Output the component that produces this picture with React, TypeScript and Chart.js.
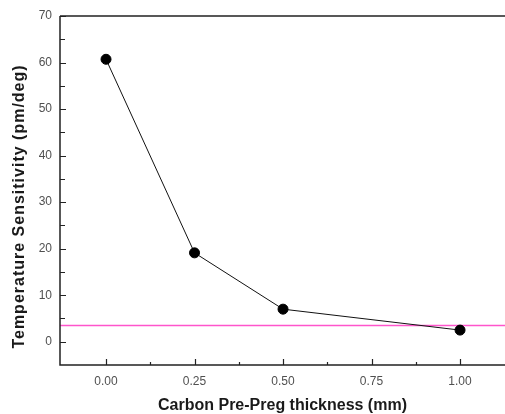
import React, { useEffect, useRef } from "react";
import { Chart, registerables } from "chart.js";

Chart.register(...registerables);

const thickness = [0.0, 0.25, 0.5, 1.0];
const sensitivity = [60.7, 19.1, 7.0, 2.5];
const thresholdValue = 3.5;
const xTickValues = [0, 0.25, 0.5, 0.75, 1.0];
const xMinorValues = [0.125, 0.375, 0.625, 0.875];
const yTickValues = [0, 10, 20, 30, 40, 50, 60, 70];
const yMinorValues = [5, 15, 25, 35, 45, 55, 65];
const X_MIN = -0.13;
const X_MAX = 1.127;
const Y_MIN = -5;
const Y_MAX = 70;
const yTitle = "Temperature Sensitivity (pm/deg)";
const xTitle = "Carbon Pre-Preg thickness (mm)";

const framePlugin = {
  id: "frame",
  afterDraw(chart: any) {
    const { ctx, chartArea, scales } = chart;
    const xs = scales.x;
    const ys = scales.y;
    ctx.save();
    ctx.strokeStyle = "#222";
    ctx.lineWidth = 1.5;
    ctx.beginPath();
    ctx.moveTo(chartArea.left, chartArea.top);
    ctx.lineTo(chartArea.right, chartArea.top);
    ctx.moveTo(chartArea.left, chartArea.top);
    ctx.lineTo(chartArea.left, chartArea.bottom);
    ctx.lineTo(chartArea.right, chartArea.bottom);
    ctx.stroke();
    ctx.lineWidth = 1.2;
    ctx.beginPath();
    yTickValues.forEach((v) => {
      const y = Math.round(ys.getPixelForValue(v)) + 0.5;
      ctx.moveTo(chartArea.left, y);
      ctx.lineTo(chartArea.left + 6, y);
    });
    yMinorValues.forEach((v) => {
      const y = Math.round(ys.getPixelForValue(v)) + 0.5;
      ctx.moveTo(chartArea.left, y);
      ctx.lineTo(chartArea.left + 5, y);
    });
    xTickValues.forEach((v) => {
      const x = Math.round(xs.getPixelForValue(v)) + 0.5;
      ctx.moveTo(x, chartArea.bottom);
      ctx.lineTo(x, chartArea.bottom - 6);
    });
    xMinorValues.forEach((v) => {
      const x = Math.round(xs.getPixelForValue(v)) + 0.5;
      ctx.moveTo(x, chartArea.bottom);
      ctx.lineTo(x, chartArea.bottom - 3);
    });
    ctx.stroke();

    // y axis title
    ctx.translate(20, (chartArea.top + chartArea.bottom) / 2 + 16);
    ctx.rotate(-Math.PI / 2);
    ctx.font = "bold 16px 'Liberation Sans', Arial";
    (ctx as any).letterSpacing = "1px";
    ctx.fillStyle = "#1a1a1a";
    ctx.textAlign = "center";
    ctx.textBaseline = "middle";
    ctx.fillText(yTitle, 0, 0);
    ctx.restore();
  },
};

export default function App() {
  const ref = useRef<HTMLCanvasElement>(null);
  useEffect(() => {
    document.body.style.margin = "0";
    const chart = new Chart(ref.current!, {
      type: "scatter",
      data: {
        datasets: [
          {
            data: thickness.map((x, i) => ({ x, y: sensitivity[i] })),
            showLine: true,
            borderColor: "#111",
            borderWidth: 1,
            backgroundColor: "#000",
            pointBackgroundColor: "#000",
            pointBorderColor: "#000",
            pointRadius: 5,
          },
          {
            data: [
              { x: X_MIN, y: thresholdValue },
              { x: X_MAX, y: thresholdValue },
            ],
            showLine: true,
            borderColor: "#ff55cc",
            borderWidth: 1.5,
            pointRadius: 0,
          },
        ],
      },
      options: {
        animation: false,
        responsive: false,
        layout: { autoPadding: false, padding: { top: 16, right: 0, left: 0, bottom: 0 } },
        plugins: { legend: { display: false }, tooltip: { enabled: false } },
        scales: {
          x: {
            type: "linear",
            min: X_MIN,
            max: X_MAX,
            afterBuildTicks: (s: any) => {
              s.ticks = xTickValues.map((value) => ({ value }));
            },
            afterFit: (s: any) => {
              s.height = 49;
            },
            grid: { display: false, drawTicks: false },
            border: { display: false },
            ticks: {
              padding: 9,
              color: "#505050",
              font: { family: "Liberation Sans, Arial", size: 12 },
              callback: (v: any) => Number(v).toFixed(2),
              maxRotation: 0,
            },
            title: {
              display: true,
              text: xTitle,
              color: "#1a1a1a",
              font: { family: "Liberation Sans, Arial", size: 16, weight: "bold" },
              padding: { top: 4, bottom: -1 },
            },
          },
          y: {
            type: "linear",
            min: Y_MIN,
            max: Y_MAX,
            afterBuildTicks: (s: any) => {
              s.ticks = yTickValues.map((value) => ({ value }));
            },
            afterFit: (s: any) => {
              s.width = 60;
            },
            grid: { display: false, drawTicks: false },
            border: { display: false },
            ticks: {
              padding: 8,
              color: "#505050",
              font: { family: "Liberation Sans, Arial", size: 12 },
            },
            title: { display: false },
          },
        },
      },
      plugins: [framePlugin],
    } as any);
    return () => chart.destroy();
  }, []);
  return (
    <div style={{ position: "absolute", left: 0, top: 0, width: 505, height: 414 }}>
      <canvas ref={ref} width={505} height={414} style={{ display: "block" }} />
    </div>
  );
}
